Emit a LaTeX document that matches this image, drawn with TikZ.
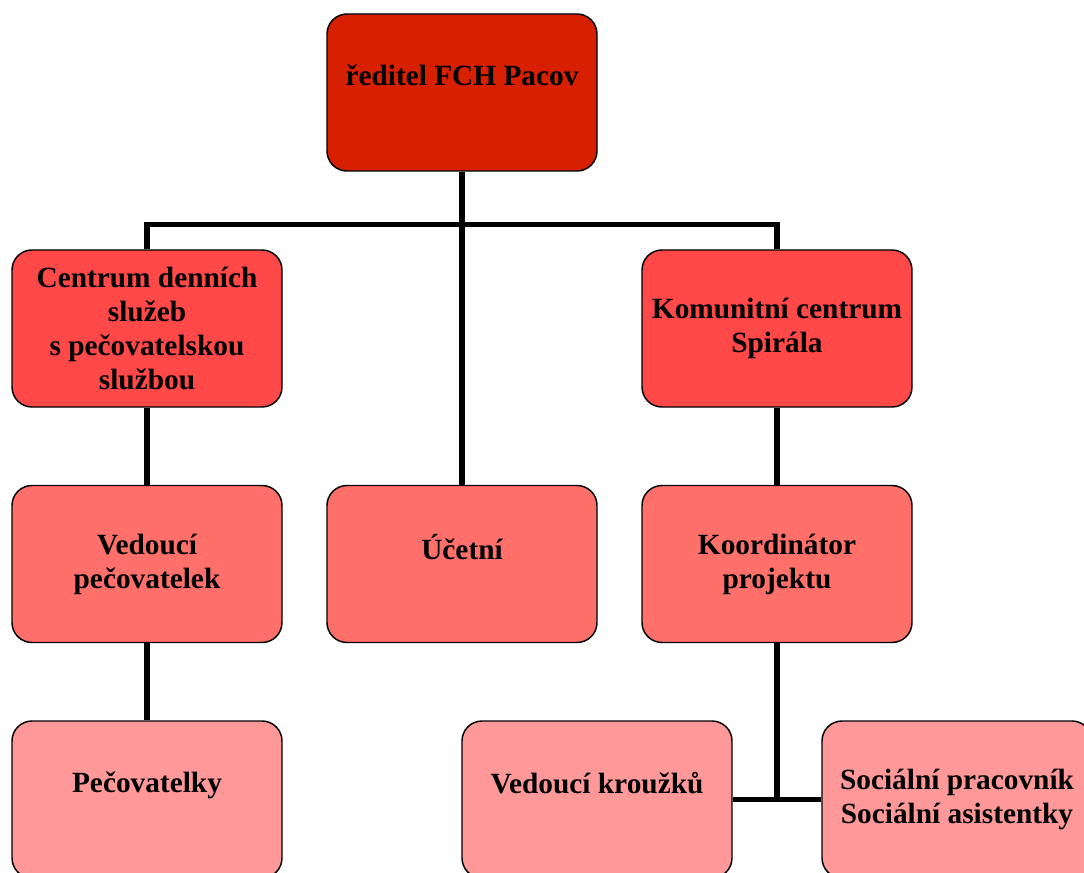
\documentclass[tikz,border=0pt]{standalone}
\usepackage{fontspec}
\setmainfont{Liberation Serif}
\usepackage{tikz}
\usepackage{xcolor}
\usetikzlibrary{calc}
\definecolor{lvl_top}{RGB}{214,32,0}
\definecolor{lvl_two}{RGB}{255,72,72}
\definecolor{lvl_three}{RGB}{255,112,107}
\definecolor{lvl_four}{RGB}{255,153,153}
\tikzset{
    unit/.style={draw=black,line width=1.1pt,rounded corners=15pt,
        minimum width=202.5pt,minimum height=117.75pt,align=center,
        font=\fontsize{22}{25.5}\selectfont\bfseries,inner sep=0pt},
    link/.style={line width=3.8pt},
}

\begin{document}
\begin{tikzpicture}[x=0.75pt,y=-0.75pt]
  \useasboundingbox (0,0) rectangle (1084,873);
  \clip (0,0) rectangle (1084,873);
  \node[unit,fill=lvl_top] (dir) at (462,92.5) {ředitel FCH Pacov\\\mbox{}};
  \node[unit,fill=lvl_two] (cds) at (147,328.5)
    {Centrum denních\\služeb\\s pečovatelskou\\službou};
  \node[unit,fill=lvl_two] (kc) at (777,328.5) {Komunitní centrum\\Spirála};
  \node[unit,fill=lvl_three] (vp) at (147,564) {Vedoucí\\pečovatelek};
  \node[unit,fill=lvl_three] (uc) at (462,564) {Účetní\\\mbox{}};
  \node[unit,fill=lvl_three] (koord) at (777,564) {Koordinátor\\projektu};
  \node[unit,fill=lvl_four] (pec) at (147,799.5) {Pečovatelky\\\mbox{}};
  \node[unit,fill=lvl_four] (vk) at (597,799.5) {Vedoucí kroužků\\\mbox{}};
  \node[unit,fill=lvl_four] (soc) at (957,799.5)
    {Sociální pracovník\\Sociální asistentky};
  \coordinate (bar) at ($(dir.south)+(0,53)$);
  \draw[link] (dir.south) -- (uc.north);
  \draw[link] (cds.north) |- (bar) -| (kc.north);
  \draw[link] (cds.south) -- (vp.north);
  \draw[link] (vp.south) -- (pec.north);
  \draw[link] (kc.south) -- (koord.north);
  \draw[link] (koord.south) -- (koord.south |- vk.east);
  \draw[link] (vk.east) -- (vk.east -| soc.west);
\end{tikzpicture}
\end{document}
